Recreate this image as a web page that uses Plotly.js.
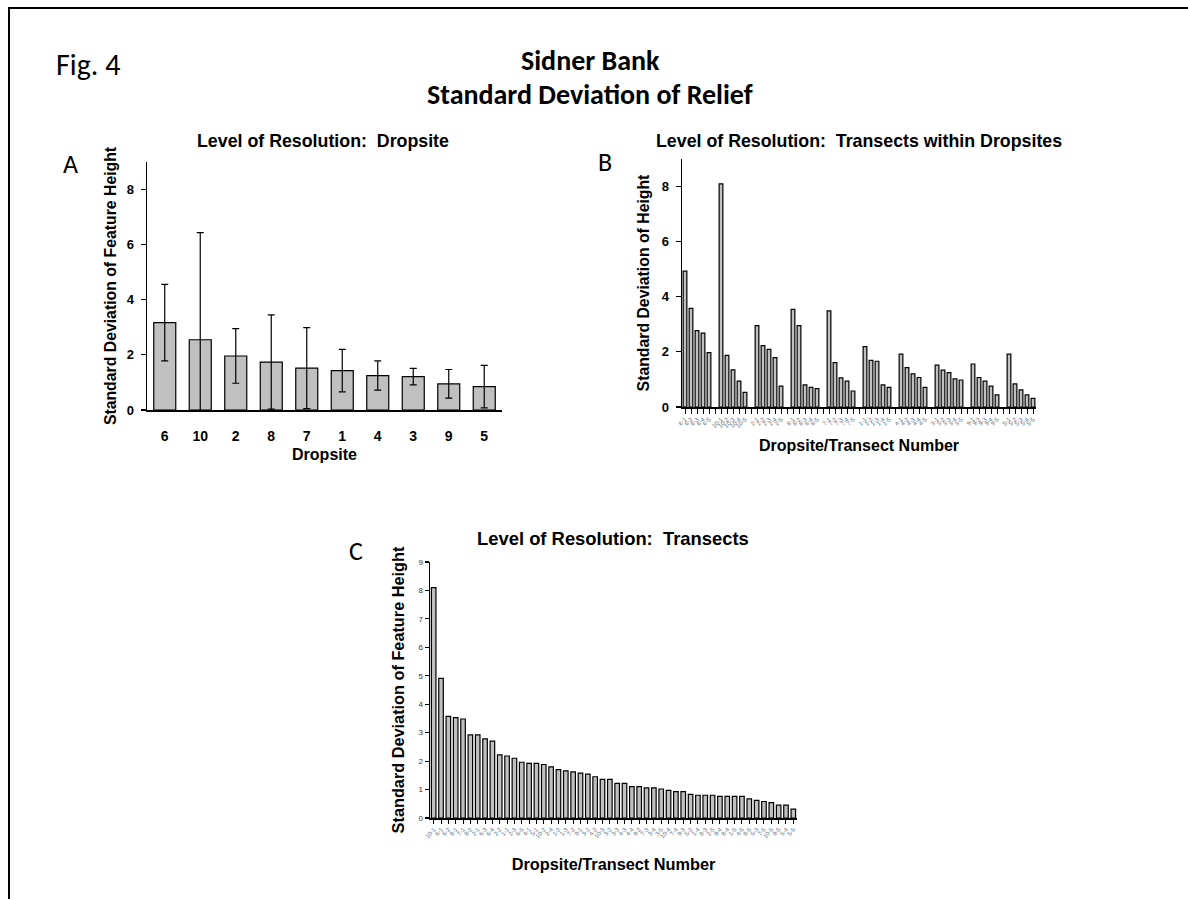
<!DOCTYPE html>
<html>
<head>
<meta charset="utf-8">
<script src="https://cdn.plot.ly/plotly-3.0.1.min.js"></script>
<style>html,body{margin:0;padding:0;background:#fff;}#chart{width:1188px;height:899px;}</style>
</head>
<body>
<div id="chart"></div>
<script>
// ---------- Data ----------
// Panel A: dropsite means and SD error bars (ordered as in the figure)
const dropsites = ["6", "10", "2", "8", "7", "1", "4", "3", "9", "5"];
const dropsiteMeans = [3.17, 2.55, 1.96, 1.74, 1.52, 1.43, 1.25, 1.21, 0.95, 0.85];
const dropsiteErr = [1.39, 3.89, 0.99, 1.71, 1.47, 0.77, 0.53, 0.30, 0.52, 0.77];

// Panel B: transects within dropsites (5 per dropsite, same order as A)
const groupDropsites = ["6", "10", "2", "8", "7", "1", "4", "3", "9", "5"];
const transectValues = [
  [4.93, 3.58, 2.77, 2.68, 1.97],
  [8.10, 1.87, 1.35, 0.94, 0.53],
  [2.95, 2.23, 2.09, 1.79, 0.76],
  [3.54, 2.95, 0.80, 0.71, 0.67],
  [3.49, 1.61, 1.06, 0.94, 0.58],
  [2.19, 1.69, 1.66, 0.80, 0.71],
  [1.92, 1.43, 1.20, 1.07, 0.71],
  [1.52, 1.34, 1.25, 1.02, 0.98],
  [1.56, 1.07, 0.94, 0.76, 0.44],
  [1.92, 0.84, 0.62, 0.44, 0.31]
];
const transectIds = ["1", "2", "3", "4", "5"];

// Panel C: all transects sorted by SD
const sortedLabels = ["10-1","6-1","6-2","8-1","7-1","8-2","2-1","6-3","6-4","2-2",
  "1-1","2-3","6-5","4-1","5-1","10-2","2-4","1-2","1-3","7-2",
  "9-1","3-1","4-2","10-3","3-2","3-3","4-3","4-4","9-2","7-3",
  "3-4","3-5","10-4","7-4","9-3","5-2","1-4","8-3","2-5","9-4",
  "8-4","1-5","4-5","8-5","5-3","7-5","10-5","9-5","5-4","5-5"];
const sortedValues = [8.10, 4.91, 3.57, 3.53, 3.48, 2.92, 2.92, 2.78, 2.70, 2.22,
  2.18, 2.10, 1.96, 1.92, 1.92, 1.88, 1.80, 1.70, 1.66, 1.62,
  1.58, 1.54, 1.45, 1.36, 1.36, 1.22, 1.22, 1.10, 1.10, 1.06,
  1.06, 1.02, 0.97, 0.93, 0.93, 0.83, 0.80, 0.80, 0.80, 0.76,
  0.76, 0.76, 0.76, 0.67, 0.62, 0.58, 0.54, 0.45, 0.45, 0.31];

// ---------- Layout helpers ----------
const W = 1188, H = 899;
const fx = p => p / W;
const fy = p => 1 - p / H;

const barFill = "#c0c0c0";
const barLine = {color: "#000", width: 1.2};
const ARIAL = "Liberation Sans, Arial, sans-serif";
const boldFont = (size) => ({family: ARIAL, size: size, color: "#000", weight: "bold"});
const calibriLike = "Carlito, Calibri, Open Sans, sans-serif";

// Panel B positions: 5 bars per group + 1 empty slot between groups
const bX = [], bY = [], bTickVals = [], bTickText = [];
groupDropsites.forEach((g, gi) => {
  transectValues[gi].forEach((v, ti) => {
    bX.push(gi * 6 + ti);
    bY.push(v);
  });
});
const nSlots = groupDropsites.length * 6 - 1;
for (let s = 0; s < nSlots; s++) {
  bTickVals.push(s);
  const gi = Math.floor(s / 6), ti = s % 6;
  bTickText.push(ti < 5 ? groupDropsites[gi] + "-" + transectIds[ti] : "");
}

const traces = [
  {
    type: "bar", x: dropsites, y: dropsiteMeans, xaxis: "x", yaxis: "y",
    marker: {color: barFill, line: barLine},
    error_y: {type: "data", array: dropsiteErr, visible: true, color: "#000", thickness: 1.2, width: 3.5},
    hoverinfo: "x+y"
  },
  {
    type: "bar", x: bX, y: bY, xaxis: "x2", yaxis: "y2",
    marker: {color: barFill, line: barLine}
  },
  {
    type: "bar", x: sortedLabels, y: sortedValues, xaxis: "x3", yaxis: "y3",
    marker: {color: barFill, line: barLine}
  }
];

const axisLine = {showline: true, linecolor: "#000", linewidth: 1.5, showgrid: false, zeroline: false, mirror: false};
const tinyTick = {family: ARIAL, size: 6, color: "#5a6b80"};

const layout = {
  width: W, height: H,
  margin: {l: 0, r: 0, t: 0, b: 0},
  paper_bgcolor: "#fff", plot_bgcolor: "#fff",
  showlegend: false,
  bargap: 0.38,
  xaxis: Object.assign({}, axisLine, {
    domain: [fx(147), fx(502)], anchor: "y", type: "category",
    ticks: "", tickfont: boldFont(14), ticklabelstandoff: 13,
    title: {text: "Dropsite", font: boldFont(16), standoff: 5}
  }),
  yaxis: Object.assign({}, axisLine, {
    domain: [fy(410), fy(162)], anchor: "x", range: [0, 9], tick0: 0, dtick: 2,
    ticks: "outside", ticklen: 5, tickcolor: "#000", tickwidth: 1.2, tickfont: boldFont(13),
    ticklabelstandoff: 4,
    title: {text: "Standard Deviation of Feature Height", font: boldFont(15.8), standoff: 6}
  }),
  xaxis2: Object.assign({}, axisLine, {
    domain: [fx(682), fx(1036)], anchor: "y2", range: [-0.5, nSlots - 0.5],
    tickmode: "array", tickvals: bTickVals, ticktext: bTickText, tickangle: -45,
    ticks: "outside", ticklen: 5, tickcolor: "#000", tickwidth: 1,
    tickfont: tinyTick,
    title: {text: "Dropsite/Transect Number", font: boldFont(16), standoff: 12}
  }),
  yaxis2: Object.assign({}, axisLine, {
    domain: [fy(407), fy(159)], anchor: "x2", range: [0, 9], tick0: 0, dtick: 2,
    ticks: "outside", ticklen: 5, tickcolor: "#000", tickwidth: 1.2, tickfont: boldFont(13),
    ticklabelstandoff: 4,
    title: {text: "Standard Deviation of Height", font: boldFont(15.8), standoff: 8}
  }),
  xaxis3: Object.assign({}, axisLine, {
    domain: [fx(430), fx(797)], anchor: "y3", type: "category",
    tickangle: -50, ticks: "outside", ticklen: 4, tickcolor: "#000", tickwidth: 1,
    tickfont: tinyTick,
    title: {text: "Dropsite/Transect Number", font: boldFont(16.3), standoff: 20}
  }),
  yaxis3: Object.assign({}, axisLine, {
    domain: [fy(818), fy(562)], anchor: "x3", range: [0, 9], tick0: 0, dtick: 1,
    ticks: "outside", ticklen: 4, tickcolor: "#000", tickwidth: 1.2,
    tickfont: {family: ARIAL, size: 8, color: "#333"},
    title: {text: "Standard Deviation of Feature Height", font: boldFont(16.3), standoff: 9}
  }),
  annotations: [
    {text: "Sidner Bank", x: fx(590), y: fy(60), xref: "paper", yref: "paper", showarrow: false,
     xanchor: "center", yanchor: "middle", font: {family: calibriLike, size: 28, color: "#000", weight: "bold"}},
    {text: "Standard Deviation of Relief", x: fx(590), y: fy(95), xref: "paper", yref: "paper", showarrow: false,
     xanchor: "center", yanchor: "middle", font: {family: calibriLike, size: 28, color: "#000", weight: "bold"}},
    {text: "Fig. 4", x: fx(54), y: fy(65), xref: "paper", yref: "paper", showarrow: false,
     xanchor: "left", yanchor: "middle", font: {family: calibriLike, size: 30, color: "#000"}},
    {text: "A", x: fx(70), y: fy(164), xref: "paper", yref: "paper", showarrow: false,
     xanchor: "center", yanchor: "middle", font: {family: calibriLike, size: 26, color: "#000"}},
    {text: "B", x: fx(605), y: fy(162), xref: "paper", yref: "paper", showarrow: false,
     xanchor: "center", yanchor: "middle", font: {family: calibriLike, size: 26, color: "#000"}},
    {text: "C", x: fx(356), y: fy(551), xref: "paper", yref: "paper", showarrow: false,
     xanchor: "center", yanchor: "middle", font: {family: calibriLike, size: 26, color: "#000"}},
    {text: "Level of Resolution:  Dropsite", x: fx(323), y: fy(141), xref: "paper", yref: "paper", showarrow: false,
     xanchor: "center", yanchor: "middle", font: boldFont(17.8)},
    {text: "Level of Resolution:  Transects within Dropsites", x: fx(859), y: fy(141), xref: "paper", yref: "paper", showarrow: false,
     xanchor: "center", yanchor: "middle", font: boldFont(17.8)},
    {text: "Level of Resolution:  Transects", x: fx(613), y: fy(538), xref: "paper", yref: "paper", showarrow: false,
     xanchor: "center", yanchor: "middle", font: boldFont(18.4)}
  ],
  shapes: [
    {type: "rect", xref: "paper", yref: "paper", x0: fx(9), x1: fx(1230), y0: fy(8), y1: fy(940),
     line: {color: "#000", width: 2}, fillcolor: "rgba(0,0,0,0)"}
  ]
};

Plotly.newPlot("chart", traces, layout, {displayModeBar: false, staticPlot: true});
</script>
</body>
</html>
